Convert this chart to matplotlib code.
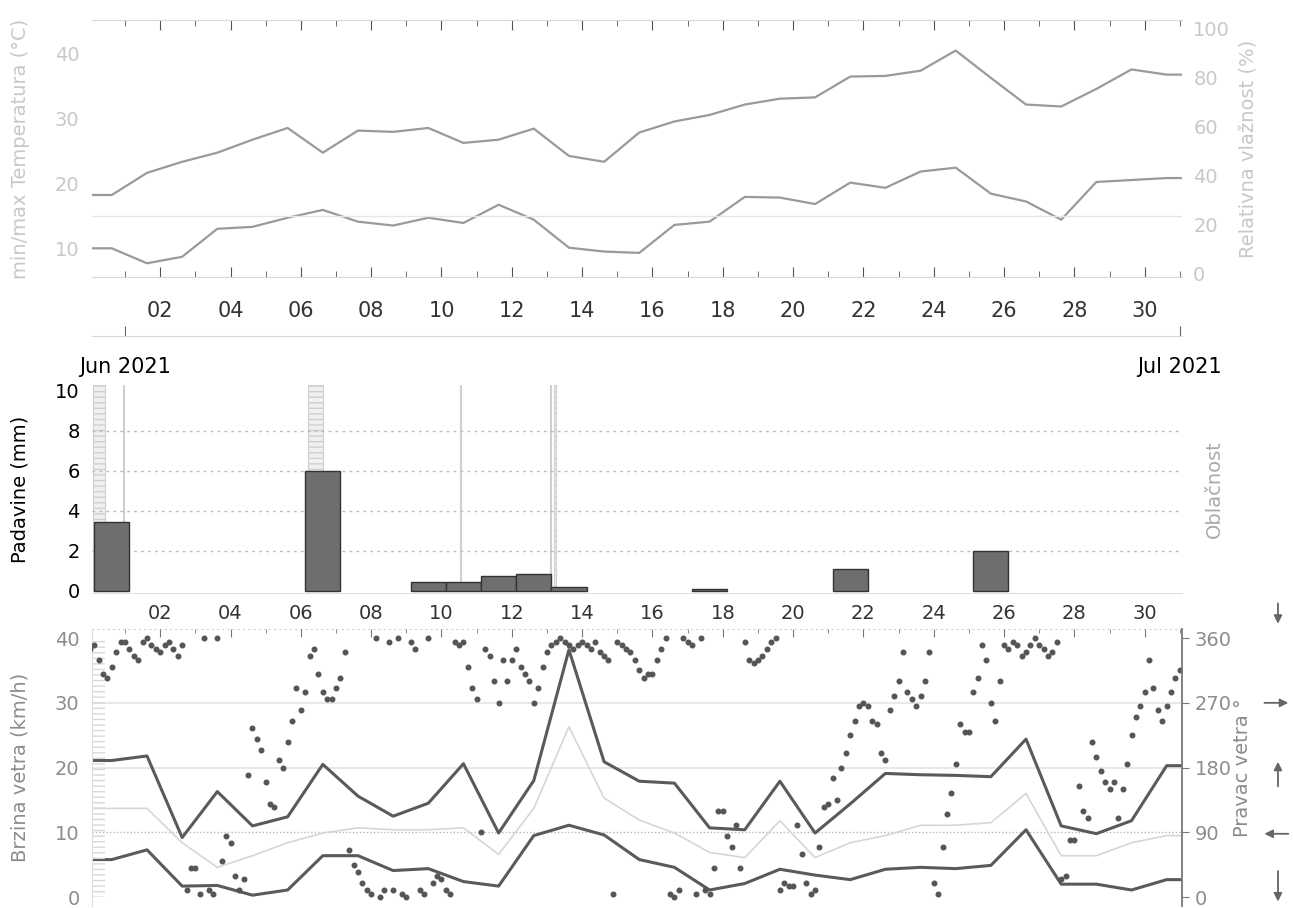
import numpy as np
import pandas as pd
import matplotlib
matplotlib.use('Agg')
import matplotlib.pyplot as plt
import matplotlib.dates as mdates

# daily values, May 31 .. Jun 30 (plotted at 15h)
days = pd.date_range('2021-05-31 15:00', '2021-06-30 15:00', freq='D')
t_max = [18.2, 21.6, 23.3, 24.7, 26.7, 28.5, 24.7, 28.1, 27.9, 28.5, 26.2,
         26.7, 28.4, 24.2, 23.3, 27.8, 29.5, 30.5, 32.1, 33.0, 33.2, 36.4,
         36.5, 37.3, 40.4, 36.2, 32.1, 31.8, 34.5, 37.5, 36.7]
t_min = [10.0, 7.7, 8.7, 13.0, 13.3, 14.7, 15.9, 14.1, 13.5, 14.7, 13.9,
         16.7, 14.4, 10.1, 9.5, 9.3, 13.6, 14.1, 17.9, 17.8, 16.8, 20.1,
         19.3, 21.8, 22.4, 18.4, 17.2, 14.4, 20.2, 20.5, 20.8]
w_max = [21.1, 21.8, 9.2, 16.3, 11.0, 12.4, 20.5, 15.6, 12.5, 14.5, 20.6,
         9.9, 18.0, 38.2, 20.9, 17.9, 17.6, 10.7, 10.4, 17.9, 9.9, 14.4,
         19.1, 18.9, 18.8, 18.6, 24.4, 11.0, 9.8, 11.8, 20.3]
w_mean = [13.7, 13.7, 8.4, 4.6, 6.4, 8.4, 9.9, 10.7, 10.4, 10.4, 10.7,
          6.6, 13.7, 26.3, 15.3, 11.9, 9.9, 6.9, 6.1, 11.8, 6.1, 8.4,
          9.5, 11.1, 11.1, 11.5, 16.0, 6.4, 6.4, 8.4, 9.5]
w_min = [5.8, 7.3, 1.7, 1.8, 0.3, 1.1, 6.4, 6.4, 4.1, 4.4, 2.4,
         1.7, 9.5, 11.1, 9.6, 5.8, 4.6, 1.1, 2.1, 4.3, 3.4, 2.7,
         4.3, 4.6, 4.4, 4.9, 10.4, 2.0, 2.0, 1.1, 2.7]

# daily precipitation (mm)
rain_days = pd.to_datetime(['2021-05-31', '2021-06-06', '2021-06-09', '2021-06-10',
                            '2021-06-11', '2021-06-12', '2021-06-13', '2021-06-17',
                            '2021-06-21', '2021-06-25']) + pd.Timedelta(hours=15)
rain_mm = [3.47, 5.98, 0.45, 0.45, 0.75, 0.85, 0.2, 0.1, 1.1, 2.0]

# cloud cover periods (octas)
cloud_start = pd.to_datetime(['2021-05-31 02:00', '2021-05-31 22:30', '2021-06-06 05:00',
                              '2021-06-10 12:30', '2021-06-13 02:00', '2021-06-13 05:00'])
cloud_hours = [8, 1, 10, 1, 1, 1]
cloud_okta = [8, 8, 8, 8, 8, 8]

# wind direction, every 3 hours from May 31 00:00
wind_dir = [
    345, 350, 330, 310, 305, 320, 340, 355,
    355, 345, 335, 330, 355, 360, 350, 345,
    340, 350, 355, 345, 335, 350, 10, 40,
    40, 5, 360, 10, 5, 360, 50, 85,
    75, 30, 10, 25, 170, 235, 220, 205,
    160, 130, 125, 190, 180, 215, 245, 290,
    260, 285, 335, 345, 310, 285, 275, 275,
    290, 305, 340, 65, 45, 35, 20, 10,
    5, 360, 0, 10, 355, 10, 360, 5,
    0, 355, 345, 10, 5, 360, 20, 30,
    25, 10, 5, 355, 350, 355, 320, 290,
    275, 90, 345, 335, 300, 270, 330, 300,
    330, 345, 320, 310, 300, 270, 290, 320,
    340, 350, 355, 360, 355, 350, 345, 350,
    355, 350, 345, 355, 340, 335, 330, 5,
    355, 350, 345, 340, 330, 315, 305, 310,
    310, 330, 345, 360, 5, 0, 10, 360,
    355, 350, 5, 360, 10, 5, 40, 120,
    120, 85, 70, 100, 40, 355, 330, 325,
    330, 335, 345, 355, 360, 10, 20, 15,
    15, 100, 60, 20, 5, 10, 70, 125,
    130, 165, 135, 180, 200, 225, 245, 265,
    270, 265, 245, 240, 200, 190, 260, 280,
    300, 340, 285, 275, 265, 280, 300, 340,
    20, 5, 70, 115, 145, 185, 240, 230,
    230, 285, 305, 350, 330, 270, 245, 300,
    350, 345, 355, 350, 335, 340, 350, 360,
    350, 345, 335, 340, 355, 25, 30, 80,
    80, 155, 120, 110, 215, 195, 175, 160,
    150, 160, 110, 150, 185, 225, 250, 265,
    285, 330, 290, 260, 245, 265, 285, 305,
    315]
dir_times = pd.date_range('2021-05-31 00:00', periods=len(wind_dir), freq='3h')

x_start = pd.Timestamp('2021-05-31 01:30')
x_end = pd.Timestamp('2021-07-01 01:30')

def edge(vals):
    # extend a daily series flat to the plot edges
    xs = np.r_[mdates.date2num(x_start), mdates.date2num(days), mdates.date2num(x_end)]
    return xs, np.r_[vals[0], vals, vals[-1]]

light = '#c8c8c8'
mid = '#8c8c8c'
plt.rcParams['font.family'] = 'DejaVu Sans'

fig = plt.figure(figsize=(12.93, 9.08), dpi=100)
ax1 = fig.add_axes([0.0712, 0.695, 0.843, 0.283])
ax2 = fig.add_axes([0.0712, 0.347, 0.843, 0.229])
ax3 = fig.add_axes([0.0712, 0.002, 0.843, 0.305])

for ax in (ax1, ax2, ax3):
    ax.set_xlim(mdates.date2num(x_start), mdates.date2num(x_end))
    ax.xaxis.set_major_locator(mdates.DayLocator(bymonthday=range(2, 31, 2)))
    ax.xaxis.set_minor_locator(mdates.DayLocator(bymonthday=range(1, 32, 2)))
    ax.xaxis.set_major_formatter(mdates.DateFormatter('%d'))

# ---- temperature panel
xs, ys = edge(t_max)
ax1.plot(xs, ys, color='#9a9a9a', lw=1.6)
xs, ys = edge(t_min)
ax1.plot(xs, ys, color='#9a9a9a', lw=1.6)
ax1.axhline(15, color='#e6e6e6', lw=1)
ax1.set_ylim(5.6, 45.1)
ax1.set_yticks([10, 20, 30, 40])
ax1.tick_params(axis='y', length=0, labelsize=14, labelcolor=light, pad=9)
ax1.tick_params(axis='x', which='both', direction='in', top=True, bottom=True,
                colors='#555555', labelcolor='#333333', labelsize=15, pad=17)
ax1.tick_params(axis='x', which='major', length=7)
ax1.tick_params(axis='x', which='minor', length=4)
ax1.set_ylabel('min/max Temperatura (°C)', fontsize=14, color=light)
ax1.yaxis.set_label_coords(-0.057, 0.5)
for s in ('left', 'right'):
    ax1.spines[s].set_visible(False)
for s in ('top', 'bottom'):
    ax1.spines[s].set_color('#d8d8d8')

ax1b = ax1.twinx()
ax1b.set_ylim(-1.6, 103.3)
ax1b.set_yticks(range(0, 101, 20))
ax1b.tick_params(axis='y', length=0, labelsize=14, labelcolor=light, pad=8)
ax1b.set_ylabel('Relativna vlažnost (%)', fontsize=14, color=light)
ax1b.yaxis.set_label_coords(1.053, 0.5)
for s in ax1b.spines.values():
    s.set_visible(False)

sec = ax1.secondary_xaxis(-0.23)
sec.set_xticks(mdates.date2num(pd.to_datetime(['2021-06-01', '2021-07-01'])))
sec.set_xticklabels(['Jun 2021', 'Jul 2021'])
sec.tick_params(axis='x', direction='in', length=7, colors='#666666',
                labelcolor='black', labelsize=15, pad=15)
sec.spines['bottom'].set_color('#d8d8d8')

# ---- precipitation panel
ax2b = ax2.twinx()
ax2b.bar(mdates.date2num(cloud_start), cloud_okta, width=np.array(cloud_hours) / 24,
         align='edge', color='#f0f0f0', edgecolor='#d0d0d0', lw=0.8, hatch='---')
ax2b.set_ylim(-0.06, 8)
ax2b.set_yticks([])
ax2b.set_ylabel('Oblačnost', fontsize=14, color='#aaaaaa')
ax2b.yaxis.set_label_coords(1.021, 0.5)
for s in ax2b.spines.values():
    s.set_visible(False)

ax2.set_zorder(ax2b.get_zorder() + 1)
ax2.patch.set_visible(False)
ax2.bar(mdates.date2num(rain_days), rain_mm, width=1.0, color='#6e6e6e',
        edgecolor='#333333', lw=1)
ax2.set_ylim(-0.1, 10.3)
ax2.set_yticks(range(0, 11, 2))
for v in (2, 4, 6, 8):
    ax2.axhline(v, color='#bbbbbb', lw=1, ls=(0, (2, 3)), zorder=0)
ax2.tick_params(axis='y', length=0, labelsize=14, labelcolor='black', pad=9)
ax2.tick_params(axis='x', which='both', length=0, labelsize=14,
                labelcolor='#333333', pad=8)
ax2.set_ylabel('Padavine (mm)', fontsize=14, color='black')
ax2.yaxis.set_label_coords(-0.057, 0.5)
for s in ('left', 'right', 'top'):
    ax2.spines[s].set_visible(False)
ax2.spines['bottom'].set_color('#e0e0e0')

# ---- wind panel
ax3.plot(*edge(w_max), color='#5a5a5a', lw=2.2)
ax3.plot(*edge(w_mean), color='#d6d6d6', lw=1.2)
ax3.plot(*edge(w_min), color='#5a5a5a', lw=2.2)
ax3.set_ylim(-1.4, 41.37)
ax3.set_yticks(range(0, 41, 10))
for v in (20, 30):
    ax3.axhline(v, color='#e4e4e4', lw=1.2, zorder=0)
ax3.axhline(10, color='#b8b8b8', lw=1, ls=(0, (1, 1.5)), zorder=0)
ax3.axhline(41.37, color='#cccccc', lw=1.5, ls=(0, (1, 1.5)), zorder=0)
ax3.tick_params(axis='y', length=0, labelsize=14, labelcolor=mid, pad=9)
ax3.tick_params(axis='x', which='both', direction='in', top=True, bottom=False,
                labelbottom=False, colors='#777777')
ax3.tick_params(axis='x', which='major', length=6)
ax3.tick_params(axis='x', which='minor', length=3)
ax3.set_ylabel('Brzina vetra (km/h)', fontsize=14, color=mid)
ax3.yaxis.set_label_coords(-0.057, 0.5)
ax3.spines['left'].set_color('#dddddd')
ax3.spines['left'].set_linestyle((0, (1, 1)))
ax3.spines['top'].set_visible(False)
ax3.spines['bottom'].set_visible(False)
ax3.spines['right'].set_visible(False)

ax3b = ax3.twinx()
ax3b.bar(mdates.date2num(cloud_start[:1]), [360], width=cloud_hours[0] / 24,
         align='edge', color='none', edgecolor='#d8d8d8', lw=0, hatch='---')
ax3b.plot(mdates.date2num(dir_times), wind_dir, 'o', color='#555555', ms=3.3)
ax3b.set_ylim(-12.6, 372.3)
ax3b.set_yticks(range(0, 361, 90))
ax3b.tick_params(axis='y', length=5, color='#777777', labelsize=14,
                 labelcolor=mid, pad=4)
ax3b.set_ylabel('Pravac vetra °', fontsize=14, color=mid)
ax3b.yaxis.set_label_coords(1.047, 0.5)
ax3b.spines['right'].set_color('#777777')
ax3b.spines['right'].set_linewidth(1.3)
for s in ('left', 'top', 'bottom'):
    ax3b.spines[s].set_visible(False)

# wind direction arrows on the right
tr = ax3b.get_yaxis_transform()
arrow = dict(arrowstyle='-|>', color='#666666', lw=1.3, mutation_scale=12)
for tail, head in [((1.088, 412), (1.088, 376)), ((1.073, 270), (1.100, 270)),
                   ((1.088, 150), (1.088, 192)), ((1.100, 88), (1.073, 88)),
                   ((1.088, 40), (1.088, -10))]:
    ax3b.annotate('', xy=head, xytext=tail, xycoords=tr, textcoords=tr,
                  arrowprops=arrow, annotation_clip=False)

fig.savefig('out.png', dpi=100)
